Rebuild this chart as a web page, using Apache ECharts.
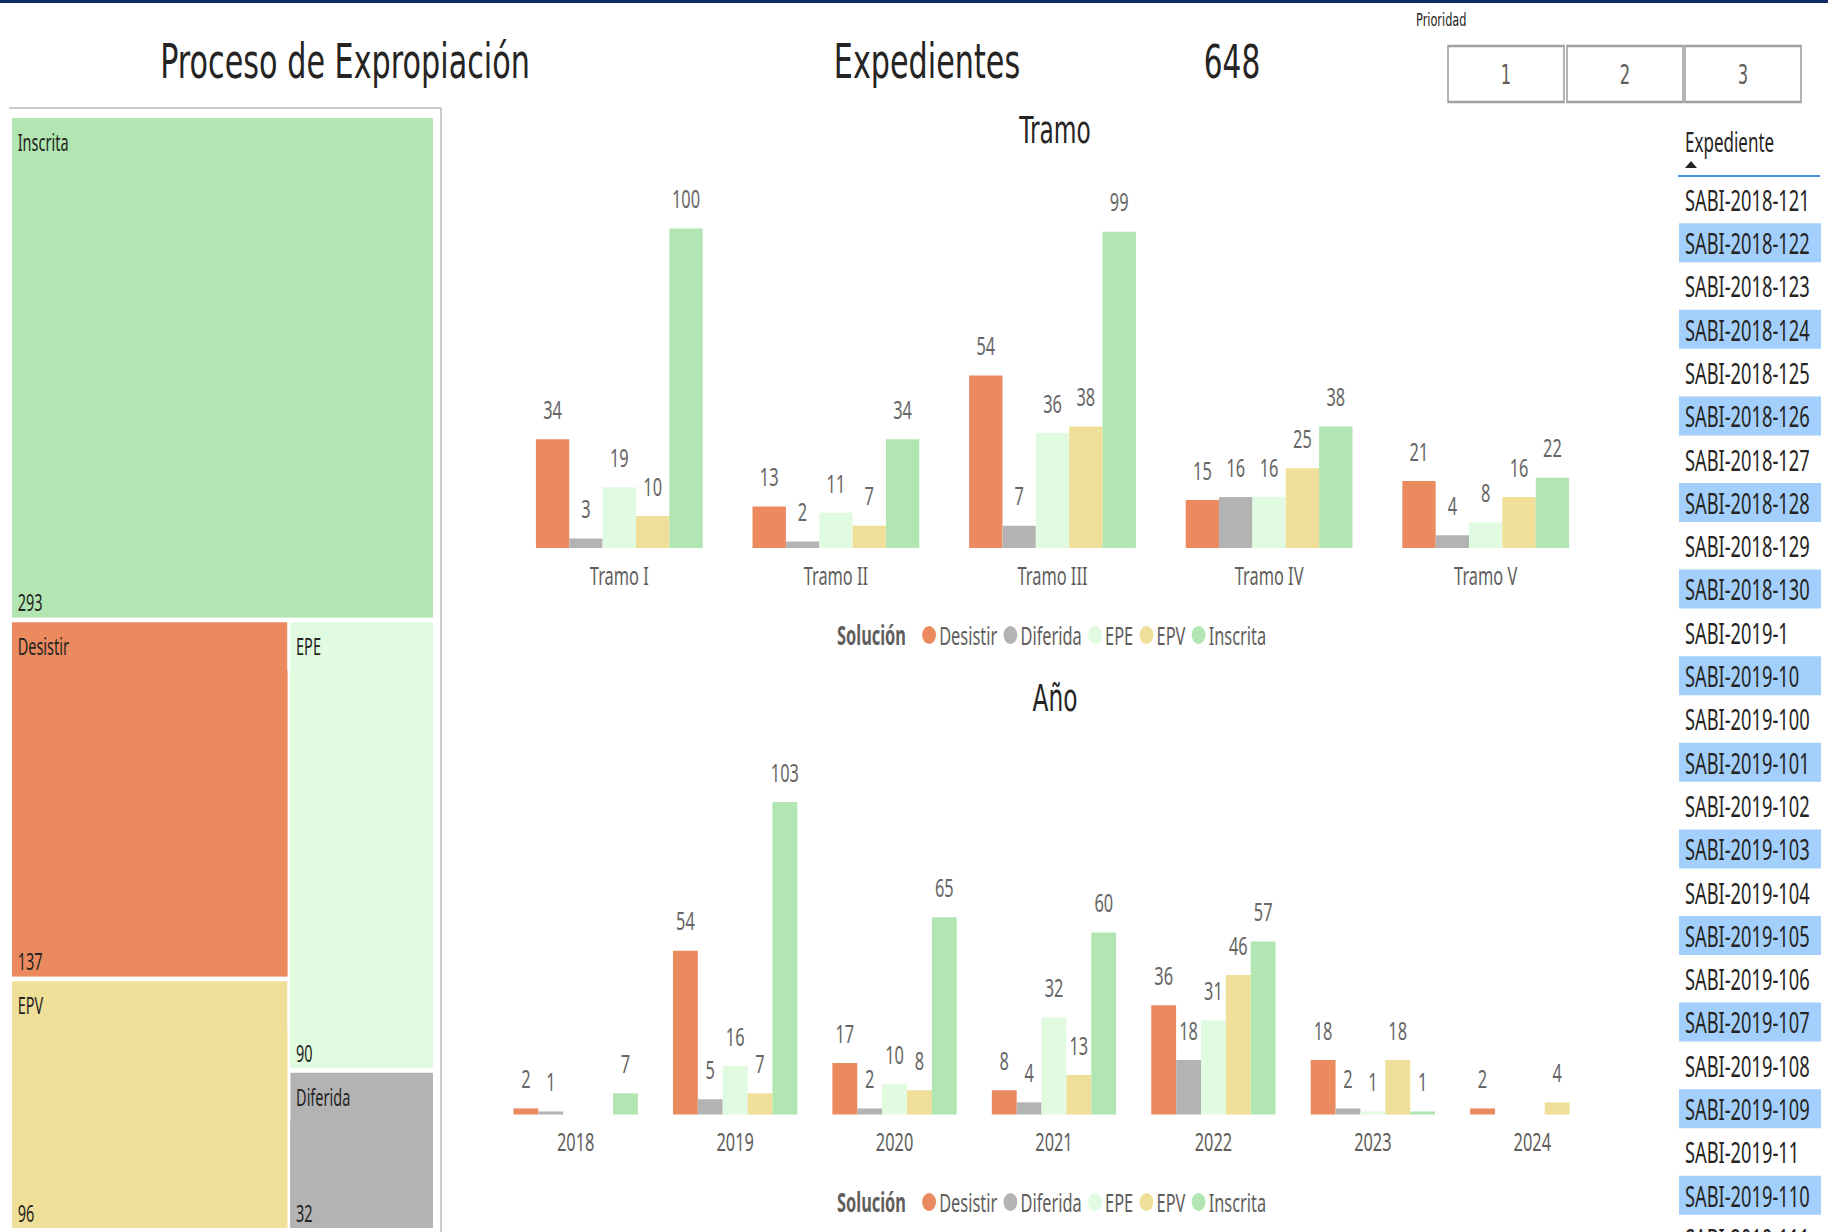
<!DOCTYPE html>
<html>
<head>
<meta charset="utf-8">
<script src="https://cdn.jsdelivr.net/npm/echarts@6/dist/echarts.min.js"></script>
<style>
html,body{margin:0;padding:0;background:#ffffff;overflow:hidden;}
#wrap{width:1828px;height:1232px;overflow:hidden;position:relative;background:#fff;}
#chart{height:1232px;transform-origin:0 0;}
</style>
</head>
<body>
<div id="wrap"><div id="chart"></div></div>
<script>
// ---------------- DATA ----------------
const soluciones = ['Desistir', 'Diferida', 'EPE', 'EPV', 'Inscrita'];
const colores = ['#EB895F', '#B3B3B3', '#E0FBE0', '#F0DF98', '#B1E5B1'];

const tramos = ['Tramo I', 'Tramo II', 'Tramo III', 'Tramo IV', 'Tramo V'];
const tramoDesistir = [34, 13, 54, 15, 21];
const tramoDiferida = [3, 2, 7, 16, 4];
const tramoEPE      = [19, 11, 36, 16, 8];
const tramoEPV      = [10, 7, 38, 25, 16];
const tramoInscrita = [100, 34, 99, 38, 22];

const anios = ['2018', '2019', '2020', '2021', '2022', '2023', '2024'];
const anioDesistir = [2, 54, 17, 8, 36, 18, 2];
const anioDiferida = [1, 5, 2, 4, 18, 2, null];
const anioEPE      = [null, 16, 10, 32, 31, 1, null];
const anioEPV      = [null, 7, 8, 13, 46, 18, 4];
const anioInscrita = [7, 103, 65, 60, 57, 1, null];

const treemapNombres = ['Inscrita', 'Desistir', 'EPE', 'EPV', 'Diferida'];
const treemapValores = [293, 137, 90, 96, 32];

const totalExpedientes = 648;
const prioridades = ['1', '2', '3'];
const expedientes = [
  'SABI-2018-121', 'SABI-2018-122', 'SABI-2018-123', 'SABI-2018-124', 'SABI-2018-125',
  'SABI-2018-126', 'SABI-2018-127', 'SABI-2018-128', 'SABI-2018-129', 'SABI-2018-130',
  'SABI-2019-1', 'SABI-2019-10', 'SABI-2019-100', 'SABI-2019-101', 'SABI-2019-102',
  'SABI-2019-103', 'SABI-2019-104', 'SABI-2019-105', 'SABI-2019-106', 'SABI-2019-107',
  'SABI-2019-108', 'SABI-2019-109', 'SABI-2019-11', 'SABI-2019-110', 'SABI-2019-111'
];

// ---------------- LAYOUT ----------------
const SX = 0.63;                       // horizontal condensation of the page
const CW = Math.round(1828 / SX);      // chart canvas width before condensing
const fx = v => v / SX;                // page x -> chart x
const el = document.getElementById('chart');
el.style.width = CW + 'px';
el.style.transform = 'scaleX(' + SX + ')';

const DARK = '#252423';
const GREY = '#605E5C';
const BODY = 'Noto Sans';
const HEAD = 'DejaVu Sans';

const tramoSeries = [tramoDesistir, tramoDiferida, tramoEPE, tramoEPV, tramoInscrita];
const anioSeries = [anioDesistir, anioDiferida, anioEPE, anioEPV, anioInscrita];
const maxOf = arrs => Math.max.apply(null, arrs.flat().filter(v => v != null));

function barSeries(arrs, axisIndex, gap) {
  return arrs.map((d, i) => ({
    name: soluciones[i], type: 'bar', data: d,
    xAxisIndex: axisIndex, yAxisIndex: axisIndex,
    barGap: '0%', barCategoryGap: gap,
    itemStyle: { color: colores[i] },
    label: { show: true, position: 'top', distance: 17.5, fontSize: 26, fontFamily: BODY, color: '#666666' },
    emphasis: { disabled: true }
  }));
}

const legendIcon = 'path://M50,0 A50,50 0 1,1 50,100 A50,50 0 1,1 50,0 Z';
function makeLegend(top) {
  return {
    data: soluciones, left: fx(919), top: top, orient: 'horizontal',
    itemGap: 10, itemWidth: 22, itemHeight: 18, icon: legendIcon,
    symbolKeepAspect: false, selectedMode: false,
    textStyle: { fontSize: 26, color: GREY, fontFamily: BODY, lineHeight: 30 }
  };
}

// treemap data: each category carries a header (name) and a body (value)
const treemapData = treemapNombres.map((n, i) => {
  const c = colores[soluciones.indexOf(n)];
  return {
    name: n, value: treemapValores[i],
    itemStyle: { color: c, borderColor: c, borderWidth: 0, gapWidth: 0 },
    upperLabel: { show: true, height: 48, position: 'insideLeft', distance: 9,
      formatter: '{b}', fontSize: 23, fontFamily: BODY, color: DARK },
    children: [{
      name: n, value: treemapValores[i],
      itemStyle: { color: c, borderColor: c, borderWidth: 0 },
      label: { show: true, position: 'insideBottomLeft', distance: 3, padding: [0, 0, 0, 6],
        formatter: '{c}', fontSize: 23, fontFamily: BODY, color: DARK, lineHeight: 24 }
    }]
  };
});

// ---------------- GRAPHICS (titles, slicer, table) ----------------
const g = [];
g.push({ type: 'rect', shape: { x: 0, y: 0, width: CW, height: 3 }, style: { fill: '#0E2B63' } });
g.push({ type: 'text', x: fx(345), y: 61.5, style: { text: 'Proceso de Expropiación', fontSize: 48, fontFamily: HEAD, fill: DARK, align: 'center', verticalAlign: 'middle' } });
g.push({ type: 'text', x: fx(927), y: 61.5, style: { text: 'Expedientes', fontSize: 48, fontFamily: HEAD, fill: DARK, align: 'center', verticalAlign: 'middle' } });
g.push({ type: 'text', x: fx(1232), y: 61.5, style: { text: String(totalExpedientes), fontSize: 47, fontFamily: HEAD, fill: DARK, align: 'center', verticalAlign: 'middle' } });
g.push({ type: 'text', x: fx(1416), y: 20, style: { text: 'Prioridad', fontSize: 18, fontFamily: HEAD, fill: DARK, align: 'left', verticalAlign: 'middle' } });
const btnX = [1448, 1567, 1685];
prioridades.forEach((p, i) => {
  g.push({ type: 'rect', shape: { x: fx(btnX[i]), y: 46, width: 116 / SX, height: 56 }, style: { fill: '#fff', stroke: '#A0A0A0', lineWidth: 2.5 } });
  g.push({ type: 'text', x: fx(btnX[i] + 58), y: 75, style: { text: p, fontSize: 26, fontFamily: HEAD, fill: GREY, align: 'center', verticalAlign: 'middle' } });
});
// treemap panel border
g.push({ type: 'line', shape: { x1: fx(9), y1: 108, x2: fx(441), y2: 108 }, style: { stroke: '#C8C8C8', lineWidth: 2 } });
g.push({ type: 'line', shape: { x1: fx(441), y1: 108, x2: fx(441), y2: 1232 }, style: { stroke: '#C8C8C8', lineWidth: 3 } });
// chart titles
g.push({ type: 'text', x: fx(1055), y: 130, style: { text: 'Tramo', fontSize: 37, fontFamily: HEAD, fill: DARK, align: 'center', verticalAlign: 'middle' } });
g.push({ type: 'text', x: fx(1055), y: 698, style: { text: 'Año', fontSize: 37, fontFamily: HEAD, fill: DARK, align: 'center', verticalAlign: 'middle' } });
// legend titles
[635, 1202].forEach(y => {
  g.push({ type: 'text', x: fx(837), y: y, style: { text: 'Solución', fontSize: 26, fontWeight: 'bold', fontFamily: BODY, fill: GREY, align: 'left', verticalAlign: 'middle' } });
});
// table
g.push({ type: 'text', x: fx(1685), y: 142, style: { text: 'Expediente', fontSize: 27, fontFamily: BODY, fill: DARK, align: 'left', verticalAlign: 'middle' } });
g.push({ type: 'polygon', shape: { points: [[fx(1685), 168], [fx(1697), 168], [fx(1691), 161]] }, style: { fill: DARK } });
g.push({ type: 'line', shape: { x1: fx(1678), y1: 176, x2: fx(1820), y2: 176 }, style: { stroke: '#4A90E2', lineWidth: 2 } });
expedientes.forEach((e, i) => {
  const cy = 199.4 + 43.3 * i;
  if (i % 2 === 1) {
    g.push({ type: 'rect', shape: { x: fx(1679), y: cy - 19.5, width: 142 / SX, height: 39 }, style: { fill: '#A2CFFC' } });
  }
  g.push({ type: 'text', x: fx(1685), y: cy, style: { text: e, fontSize: 29, fontFamily: BODY, fill: DARK, align: 'left', verticalAlign: 'middle' } });
});

// ---------------- OPTION ----------------
const chart = echarts.init(el, null, { renderer: 'svg', width: CW, height: 1232 });
const axisLabel = m => ({ fontSize: 26, fontFamily: BODY, color: GREY, margin: m });
const option = {
  animation: false,
  backgroundColor: '#ffffff',
  grid: [
    { left: fx(511), width: fx(1594) - fx(511), top: 228.5, height: 319.5, containLabel: false },
    { left: fx(496), width: fx(1612) - fx(496), top: 802, height: 312.5, containLabel: false }
  ],
  xAxis: [
    { type: 'category', gridIndex: 0, data: tramos, axisLine: { show: false }, axisTick: { show: false }, axisLabel: axisLabel(14) },
    { type: 'category', gridIndex: 1, data: anios, axisLine: { show: false }, axisTick: { show: false }, axisLabel: axisLabel(13) }
  ],
  yAxis: [
    { type: 'value', gridIndex: 0, show: false, min: 0, max: maxOf(tramoSeries), splitLine: { show: false } },
    { type: 'value', gridIndex: 1, show: false, min: 0, max: maxOf(anioSeries), splitLine: { show: false } }
  ],
  legend: [makeLegend(615), makeLegend(1182)],
  series: [
    {
      type: 'treemap', left: fx(12), top: 118, width: fx(433) - fx(12), height: 1110,
      roam: false, nodeClick: false, breadcrumb: { show: false },
      squareRatio: 1, sort: 'desc', drillDownIcon: '',
      levels: [
        { itemStyle: { gapWidth: 5, borderWidth: 0, borderColor: '#ffffff' } },
        { itemStyle: { gapWidth: 0, borderWidth: 0 } },
        { itemStyle: { gapWidth: 0, borderWidth: 0 } }
      ],
      emphasis: { disabled: true },
      data: treemapData
    }
  ].concat(barSeries(tramoSeries, 0, '23%'), barSeries(anioSeries, 1, '22%')),
  graphic: g
};
chart.setOption(option);
</script>
</body>
</html>
